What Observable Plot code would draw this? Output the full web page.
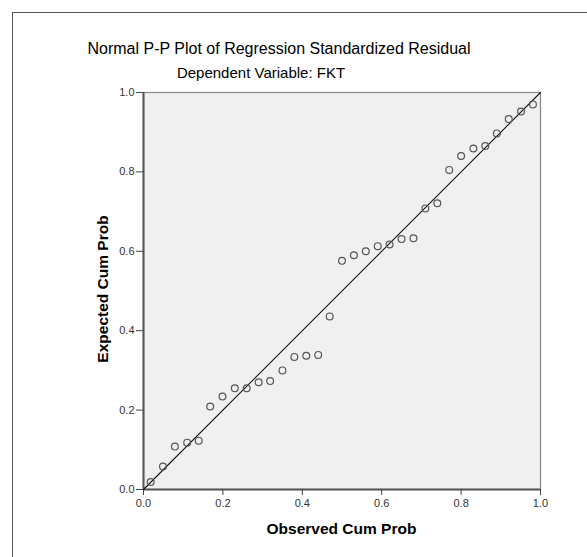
<!DOCTYPE html>
<html>
<head>
<meta charset="utf-8">
<script src="https://cdn.jsdelivr.net/npm/d3@7"></script>
<script src="https://cdn.jsdelivr.net/npm/@observablehq/plot@0.6"></script>
<style>
  html, body { margin: 0; padding: 0; background: white; }
  #chart svg { display: block; }
</style>
</head>
<body>
<div id="chart"></div>
<script>
const titleText = "Normal P-P Plot of Regression Standardized Residual";
const subtitleText = "Dependent Variable: FKT";
const xLabel = "Observed Cum Prob";
const yLabel = "Expected Cum Prob";
const tickValues = [0, 0.2, 0.4, 0.6, 0.8, 1.0];

const observedCumProb = [0.018, 0.049, 0.079, 0.110, 0.139, 0.168, 0.199, 0.230, 0.260, 0.290, 0.319,
  0.350, 0.380, 0.410, 0.440, 0.469, 0.500, 0.530, 0.560, 0.590, 0.620, 0.650, 0.680, 0.710,
  0.740, 0.770, 0.800, 0.831, 0.861, 0.890, 0.920, 0.951, 0.981];
const expectedCumProb = [0.019, 0.058, 0.108, 0.118, 0.123, 0.209, 0.234, 0.255, 0.255, 0.270, 0.273,
  0.300, 0.334, 0.337, 0.339, 0.436, 0.576, 0.590, 0.600, 0.613, 0.617, 0.631, 0.633, 0.708,
  0.721, 0.805, 0.840, 0.859, 0.865, 0.897, 0.933, 0.952, 0.970];

const points = observedCumProb.map((o, i) => ({obs: o, exp: expectedCumProb[i]}));
const diagonal = [{a: 0}, {a: 1}];
const fmt = d3.format(".1f");
const font = "'Liberation Sans', Arial, Helvetica, sans-serif";

const chart = Plot.plot({
  width: 587,
  height: 557,
  marginLeft: 143,
  marginRight: 47,
  marginTop: 92,
  marginBottom: 68,
  style: {fontFamily: font, background: "white", color: "#333"},
  x: {domain: [0, 1]},
  y: {domain: [0, 1]},
  marks: [
    Plot.frame({fill: "#f0f0f0", stroke: null}),
    Plot.frame({stroke: "#888", strokeWidth: 1.2}),
    Plot.ruleX([0], {stroke: "#555", strokeWidth: 2}),
    Plot.ruleY([0], {stroke: "#555", strokeWidth: 2}),
    Plot.axisX({ticks: tickValues, tickFormat: fmt, tickSize: 6, tickPadding: 4, fontSize: 11, label: null, stroke: "#444", fill: "#333"}),
    Plot.axisY({ticks: tickValues, tickFormat: fmt, tickSize: 7, tickPadding: 2, fontSize: 11, label: null, stroke: "#444", fill: "#333"}),
    Plot.line(diagonal, {x: "a", y: "a", stroke: "#111", strokeWidth: 1.1}),
    Plot.dot(points, {x: "obs", y: "exp", r: 3.4, stroke: "#555", strokeWidth: 1.2, fill: "none"})
  ]
});

const svg = d3.select(chart);
svg.append("rect")
  .attr("x", 12.5).attr("y", 12.5).attr("width", 700).attr("height", 700)
  .attr("fill", "none").attr("stroke", "#555").attr("stroke-width", 1);

svg.append("text")
  .attr("x", 279).attr("y", 54)
  .attr("text-anchor", "middle")
  .attr("font-family", font).attr("font-size", 16).attr("fill", "#000")
  .text(titleText);
svg.append("text")
  .attr("x", 261).attr("y", 78)
  .attr("text-anchor", "middle")
  .attr("font-family", font).attr("font-size", 15).attr("fill", "#000")
  .text(subtitleText);
svg.append("text")
  .attr("x", 341.5).attr("y", 534)
  .attr("text-anchor", "middle")
  .attr("font-family", font).attr("font-size", 15.5).attr("font-weight", "bold").attr("fill", "#000")
  .text(xLabel);
svg.append("text")
  .attr("transform", "translate(108,289) rotate(-90)")
  .attr("text-anchor", "middle")
  .attr("font-family", font).attr("font-size", 15.5).attr("font-weight", "bold").attr("fill", "#000")
  .text(yLabel);

document.getElementById("chart").appendChild(chart);
</script>
</body>
</html>
